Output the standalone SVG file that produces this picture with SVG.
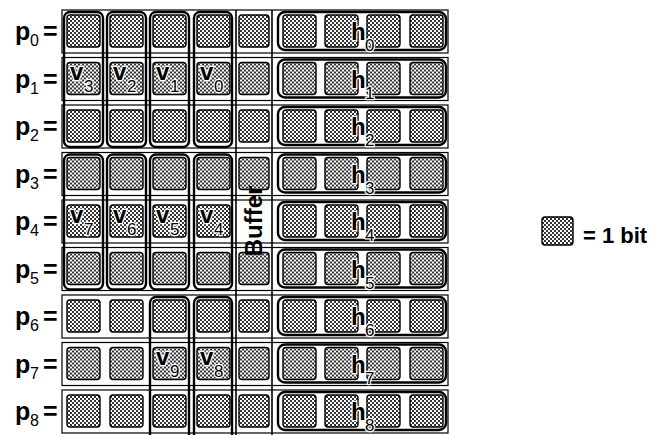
<svg xmlns="http://www.w3.org/2000/svg" width="651" height="435" viewBox="0 0 651 435">
<style>
.bg{fill:#fff}
.row{fill:none;stroke:#000;stroke-width:1.2}
.col{fill:none;stroke:#000;stroke-width:2.4}
.hbox{fill:none;stroke:#000;stroke-width:2.4}
.bit{fill:url(#dots);stroke:#000;stroke-width:1.4}
.sep{stroke:#000;stroke-width:1.6}
.lbl{font-family:"Liberation Sans",Arial,sans-serif;font-weight:bold;fill:#000}
.big{font-size:25px}
.sub{font-size:16px;font-weight:normal}
.in{font-size:24px;paint-order:stroke;stroke:#fff;stroke-width:2.5px;stroke-linejoin:round}
.insub{font-size:17px;font-weight:normal;paint-order:stroke;stroke:#fff;stroke-width:2.5px;stroke-linejoin:round}
</style>
<defs>
<pattern id="dots" width="4" height="4" patternUnits="userSpaceOnUse">
<rect width="4" height="4" fill="#fff"/>
<rect x="0" y="0" width="2" height="2" fill="#333"/>
<rect x="2" y="2" width="2" height="2" fill="#333"/>
</pattern>
<g id="rowbits">
<rect class="bit" x="67" y="5" width="33" height="32" rx="3"/>
<rect class="bit" x="110" y="5" width="33" height="32" rx="3"/>
<rect class="bit" x="153" y="5" width="33" height="32" rx="3"/>
<rect class="bit" x="197" y="5" width="33" height="32" rx="3"/>
<rect class="row" x="62" y="0" width="386" height="43"/>
<rect class="hbox" x="278" y="2" width="168" height="38" rx="7"/>
<rect class="bit" x="283" y="5" width="33" height="32" rx="3"/>
<rect class="bit" x="325" y="5" width="33" height="32" rx="3"/>
<rect class="bit" x="367" y="5" width="33" height="32" rx="3"/>
<rect class="bit" x="410" y="5" width="33" height="32" rx="3"/>
</g>
<rect id="bufbit" class="bit" x="239" y="5" width="30" height="32" rx="3"/>
</defs>
<rect class="bg" width="651" height="435"/>

<g id="p0" transform="translate(0,10)"><use href="#rowbits"/><use href="#bufbit"/>
<text class="lbl big" x="15" y="30">p</text><text class="lbl sub" x="30" y="36">0</text><text class="lbl big" x="43" y="30">=</text>
<text class="lbl in" x="351" y="30">h</text><text class="lbl insub" x="365" y="41">0</text></g>
<g id="p1" transform="translate(0,57.5)"><use href="#rowbits"/><use href="#bufbit"/>
<text class="lbl big" x="15" y="30">p</text><text class="lbl sub" x="30" y="36">1</text><text class="lbl big" x="43" y="30">=</text>
<text class="lbl in" x="351" y="30">h</text><text class="lbl insub" x="365" y="41">1</text></g>
<g id="p2" transform="translate(0,105)"><use href="#rowbits"/><use href="#bufbit"/>
<text class="lbl big" x="15" y="30">p</text><text class="lbl sub" x="30" y="36">2</text><text class="lbl big" x="43" y="30">=</text>
<text class="lbl in" x="351" y="30">h</text><text class="lbl insub" x="365" y="41">2</text></g>
<g id="p3" transform="translate(0,152.5)"><use href="#rowbits"/><use href="#bufbit"/>
<text class="lbl big" x="15" y="30">p</text><text class="lbl sub" x="30" y="36">3</text><text class="lbl big" x="43" y="30">=</text>
<text class="lbl in" x="351" y="30">h</text><text class="lbl insub" x="365" y="41">3</text></g>
<g id="p4" transform="translate(0,200)"><use href="#rowbits"/>
<text class="lbl big" x="15" y="30">p</text><text class="lbl sub" x="30" y="36">4</text><text class="lbl big" x="43" y="30">=</text>
<text class="lbl in" x="351" y="30">h</text><text class="lbl insub" x="365" y="41">4</text></g>
<g id="p5" transform="translate(0,247.5)"><use href="#rowbits"/><use href="#bufbit"/>
<text class="lbl big" x="15" y="30">p</text><text class="lbl sub" x="30" y="36">5</text><text class="lbl big" x="43" y="30">=</text>
<text class="lbl in" x="351" y="30">h</text><text class="lbl insub" x="365" y="41">5</text></g>
<g id="p6" transform="translate(0,295)"><use href="#rowbits"/><use href="#bufbit"/>
<text class="lbl big" x="15" y="30">p</text><text class="lbl sub" x="30" y="36">6</text><text class="lbl big" x="43" y="30">=</text>
<text class="lbl in" x="351" y="30">h</text><text class="lbl insub" x="365" y="41">6</text></g>
<g id="p7" transform="translate(0,342.5)"><use href="#rowbits"/><use href="#bufbit"/>
<text class="lbl big" x="15" y="30">p</text><text class="lbl sub" x="30" y="36">7</text><text class="lbl big" x="43" y="30">=</text>
<text class="lbl in" x="351" y="30">h</text><text class="lbl insub" x="365" y="41">7</text></g>
<g id="p8" transform="translate(0,390)"><use href="#rowbits"/><use href="#bufbit"/>
<text class="lbl big" x="15" y="30">p</text><text class="lbl sub" x="30" y="36">8</text><text class="lbl big" x="43" y="30">=</text>
<text class="lbl in" x="351" y="30">h</text><text class="lbl insub" x="365" y="41">8</text></g>

<g id="v0-v3">
<rect class="col" x="64" y="12" width="39" height="135" rx="6"/>
<rect class="col" x="107" y="12" width="39" height="135" rx="6"/>
<rect class="col" x="150" y="12" width="39" height="135" rx="6"/>
<rect class="col" x="194" y="12" width="38" height="135" rx="6"/>
<text class="lbl in" x="70" y="80">v</text><text class="lbl insub" x="84" y="92">3</text>
<text class="lbl in" x="113" y="80">v</text><text class="lbl insub" x="127" y="92">2</text>
<text class="lbl in" x="156" y="80">v</text><text class="lbl insub" x="170" y="92">1</text>
<text class="lbl in" x="200" y="80">v</text><text class="lbl insub" x="214" y="92">0</text>
</g>
<g id="v4-v7">
<rect class="col" x="64" y="154.5" width="39" height="135" rx="6"/>
<rect class="col" x="107" y="154.5" width="39" height="135" rx="6"/>
<rect class="col" x="150" y="154.5" width="39" height="135" rx="6"/>
<rect class="col" x="194" y="154.5" width="38" height="135" rx="6"/>
<text class="lbl in" x="70" y="222.5">v</text><text class="lbl insub" x="84" y="234.5">7</text>
<text class="lbl in" x="113" y="222.5">v</text><text class="lbl insub" x="127" y="234.5">6</text>
<text class="lbl in" x="156" y="222.5">v</text><text class="lbl insub" x="170" y="234.5">5</text>
<text class="lbl in" x="200" y="222.5">v</text><text class="lbl insub" x="214" y="234.5">4</text>
</g>
<g id="v8-v9">
<rect class="col" x="150" y="297" width="39" height="150" rx="6"/>
<rect class="col" x="194" y="297" width="38" height="150" rx="6"/>
<text class="lbl in" x="156" y="365">v</text><text class="lbl insub" x="170" y="377">9</text>
<text class="lbl in" x="200" y="365">v</text><text class="lbl insub" x="214" y="377">8</text>
</g>
<g id="buffer">
<text class="lbl" font-size="24" text-anchor="middle" transform="translate(262,221) rotate(-90)">Buffer</text>
</g>
<g id="connectors">
<line class="sep" x1="236" y1="10" x2="236" y2="435"/>
<line class="sep" x1="272" y1="10" x2="272" y2="435"/>
</g>
<g id="legend">
<rect class="bit" x="542" y="217" width="31" height="28" rx="3"/>
<text class="lbl" font-size="22" x="583" y="243">= 1 bit</text>
</g>
</svg>
